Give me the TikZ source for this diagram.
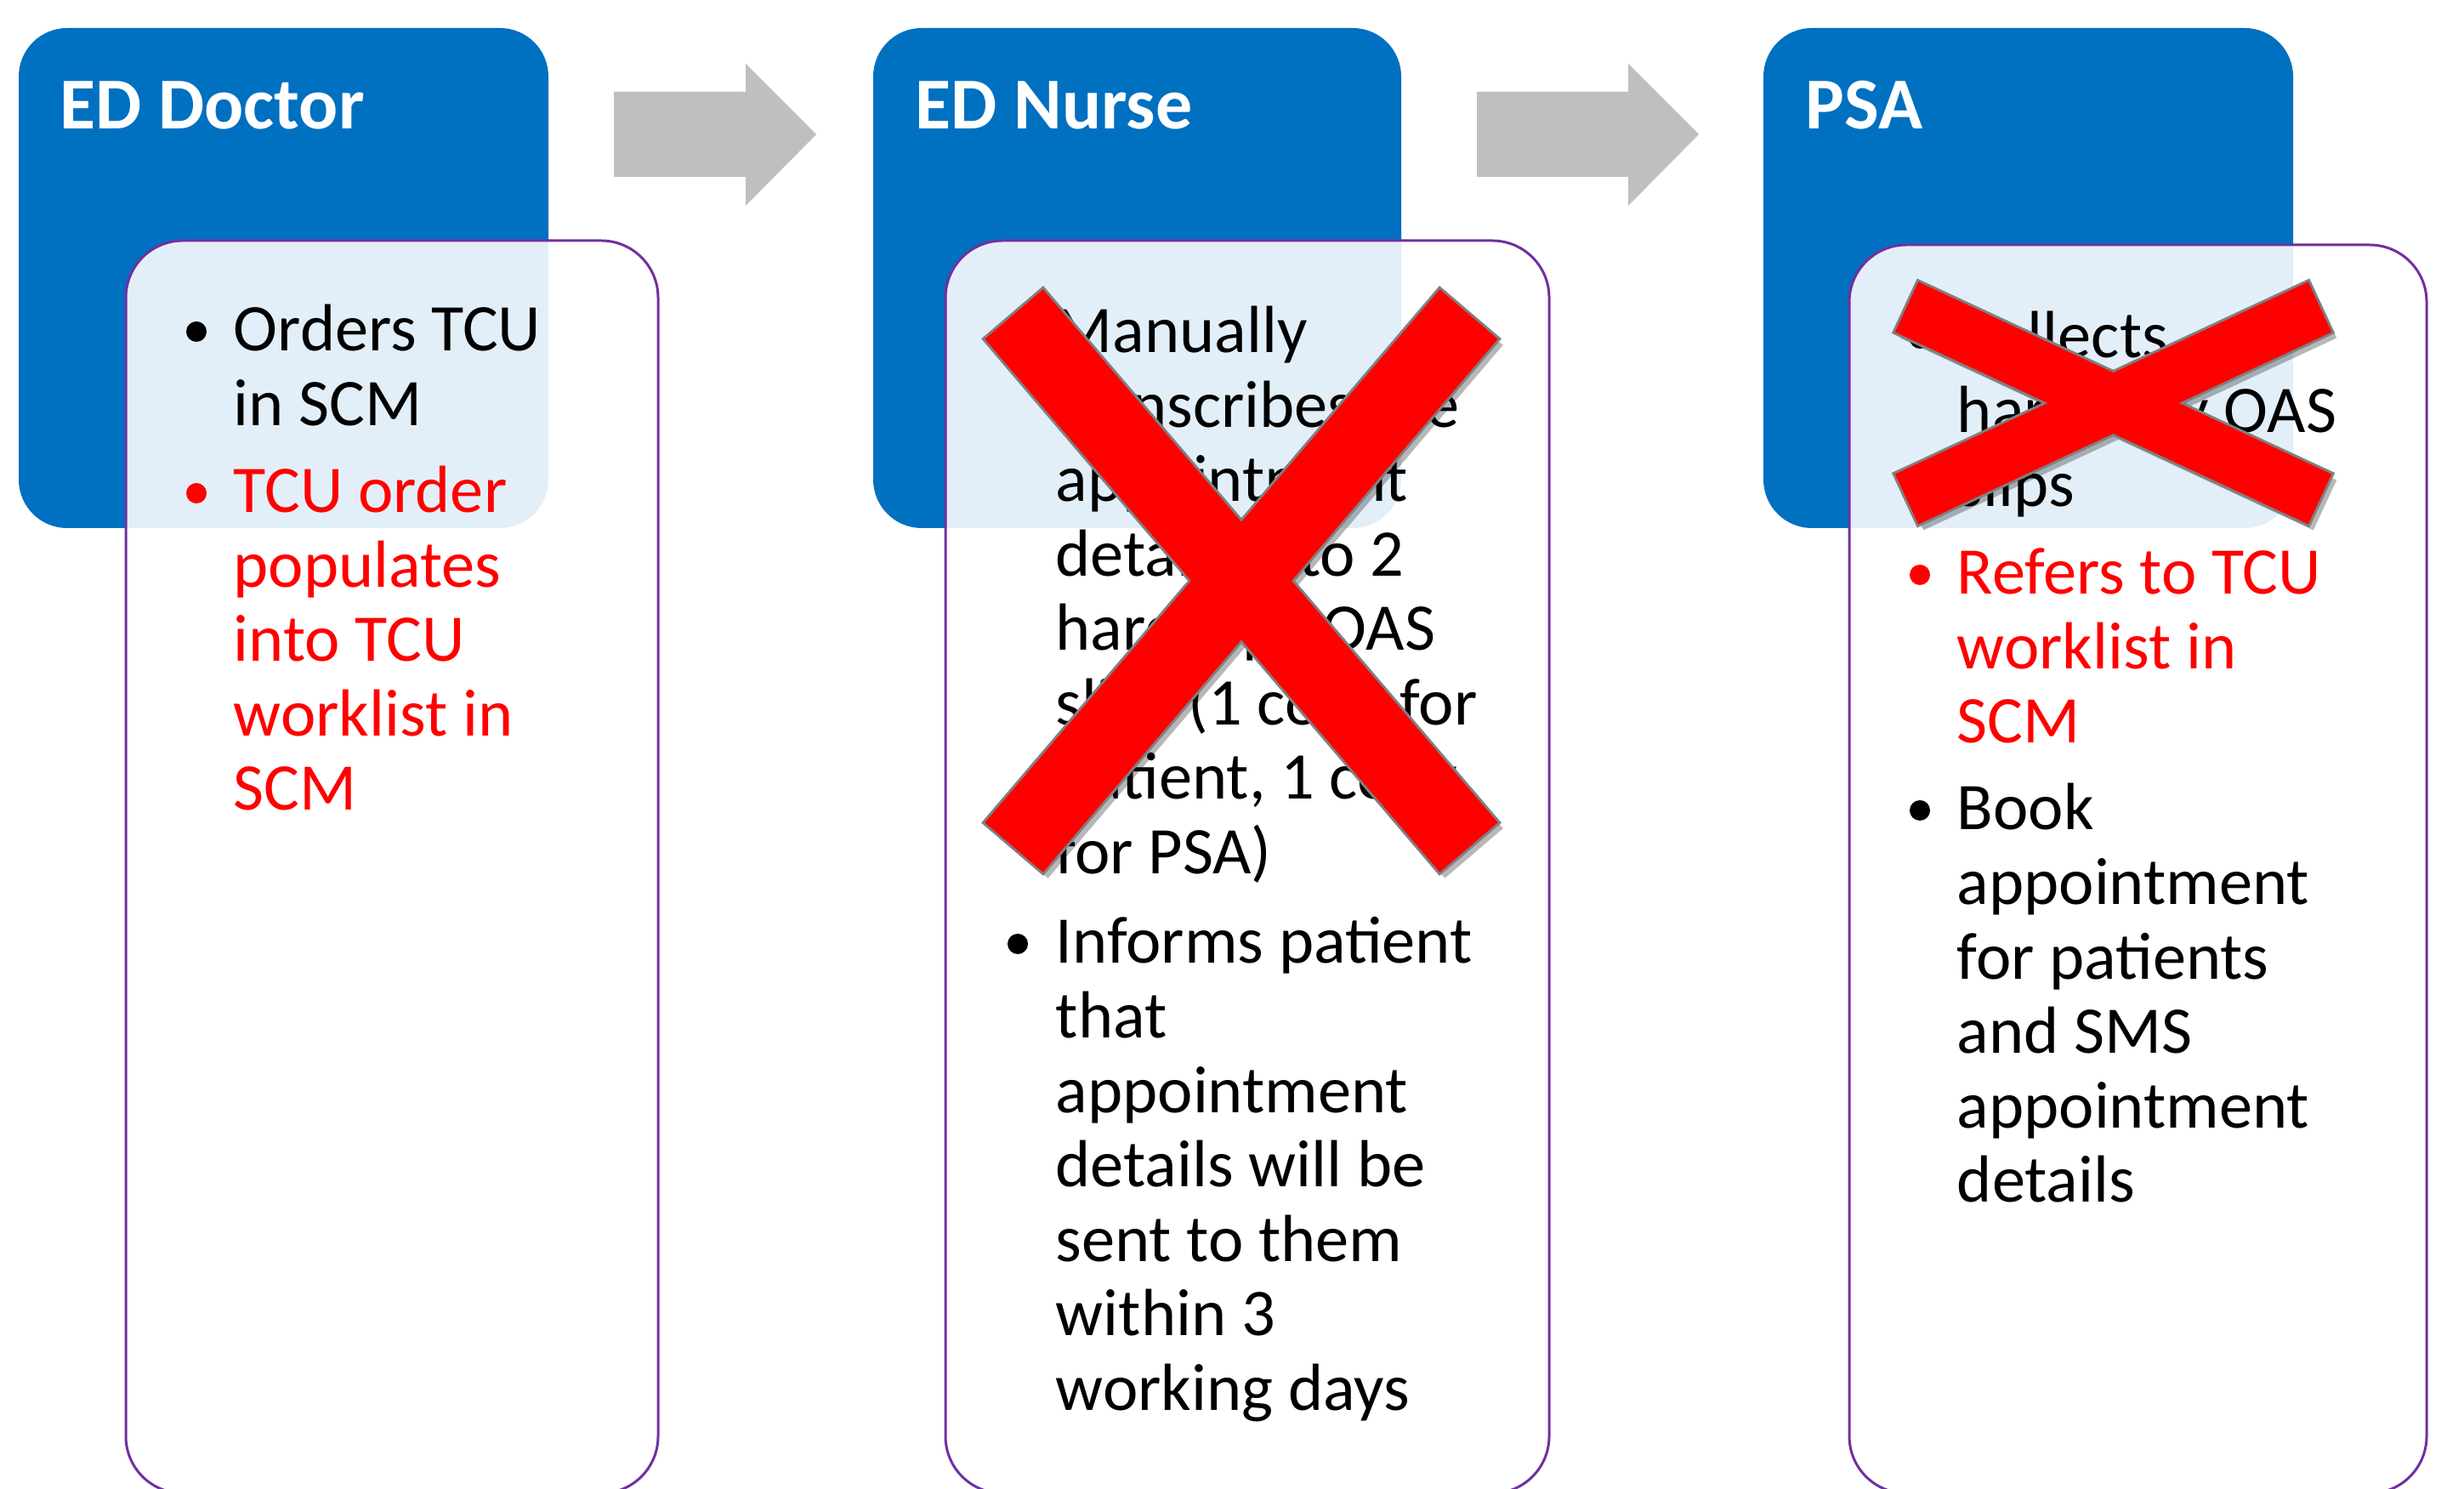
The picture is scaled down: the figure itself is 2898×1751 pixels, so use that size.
\documentclass[tikz,border=0pt]{standalone}
\usepackage{fontspec}
\setmainfont{Carlito}
\definecolor{hdrblue}{HTML}{0070C0}
\definecolor{boxpurple}{HTML}{7030A0}
\definecolor{arrowgray}{HTML}{BFBFBF}
\definecolor{xred}{HTML}{FF0000}
\definecolor{xedge}{HTML}{808080}
\begin{document}
\begin{tikzpicture}[x=0.25pt,y=-0.25pt,
  hdr/.style={fill=hdrblue, rounded corners=14.25pt},
  card/.style={fill=white, fill opacity=0.89, draw=boxpurple, line width=0.75pt, rounded corners=16.75pt},
  title/.style={anchor=base west, inner sep=0pt, text=white, font=\fontsize{21.5}{26}\selectfont\bfseries},
  body/.style={anchor=base west, inner sep=0pt, font=\fontsize{19.6}{22}\selectfont},
  redbody/.style={body, text=xred},
  bul/.style={circle, inner sep=0pt, minimum size=6pt, draw=none},
  flow/.style={fill=arrowgray},
  xshadow/.style={fill=black, opacity=0.28},
  xline/.style={draw=xedge, line width=1.5pt, line join=miter},
  xfill/.style={fill=xred}
]
\useasboundingbox (0,0) rectangle (2898,1751);
\clip (0,0) rectangle (2898,1751);

% header boxes
\path[hdr] (22,33) rectangle (645,621);
\path[hdr] (1027,33) rectangle (1648,621);
\path[hdr] (2074,33) rectangle (2697,621);

% flow arrows
\fill[flow] (722,108) -- (877,108) -- (877,75) -- (960,158) -- (877,242) -- (877,208) -- (722,208) -- cycle;
\fill[flow] (1737,108) -- (1915,108) -- (1915,75) -- (1998,158) -- (1915,242) -- (1915,208) -- (1737,208) -- cycle;

% cards
\draw[card] (148,283) rectangle (774,1756);
\draw[card] (1112,283) rectangle (1822,1756);
\draw[card] (2175,288) rectangle (2854,1756);

% titles
\node[title] (t1) at (70,152) {ED Doctor};
\node[title] (t2) at (1076,152) {ED Nurse};
\node[title] (t3) at (2123,152) {PSA};

% card 1
\node[bul, fill=black] (b11) at (231,390) {};
\foreach \t [count=\i from 0] in {Orders TCU, in SCM}
  \node[body] (a1-\i) at (274,{413+\i*87.5}) {\t};
\node[bul, fill=xred] (b12) at (231,580) {};
\foreach \t [count=\i from 0] in {TCU order, populates, into TCU, worklist in, SCM}
  \node[redbody] (c1-\i) at (274,{603+\i*87.5}) {\t};

% card 2
\node[bul, fill=black] (b21) at (1197,392) {};
\foreach \t [count=\i from 0] in {Manually, transcribes the, appointment, details into 2, hardcopy OAS, {slips (1 copy for}, {patient, 1 copy}, for PSA)}
  \node[body] (a2-\i) at (1241,{415+\i*87.5}) {\t};
\node[bul, fill=black] (b22) at (1197,1110) {};
\foreach \t [count=\i from 0] in {Informs patient, that, appointment, details will be, sent to them, within 3, working days}
  \node[body] (c2-\i) at (1241,{1133+\i*87.5}) {\t};

% card 3
\node[bul, fill=black] (b31) at (2258,398) {};
\foreach \t [count=\i from 0] in {Collects, hardcopy OAS, slips}
  \node[body] (a3-\i) at (2301,{421+\i*87.5}) {\t};
\node[bul, fill=xred] (b32) at (2258,676) {};
\foreach \t [count=\i from 0] in {Refers to TCU, worklist in, SCM}
  \node[redbody] (c3-\i) at (2301,{699+\i*87.5}) {\t};
\node[bul, fill=black] (b33) at (2258,953) {};
\foreach \t [count=\i from 0] in {Book, appointment, for patients, and SMS, appointment, details}
  \node[body] (d3-\i) at (2301,{976+\i*87.5}) {\t};

% red crosses
\begin{scope}[shift={(6,7)}]
\fill[xshadow] (1158.3,398.7) -- (1226.7,340.3) -- (1761.7,967.3) -- (1693.3,1025.7) -- cycle
               (1693.3,340.3) -- (1761.7,398.7) -- (1226.7,1025.7) -- (1158.3,967.3) -- cycle;
\fill[xshadow] (2228.8,390.5) -- (2256.2,331.5) -- (2742.2,557.5) -- (2714.8,616.5) -- cycle
               (2714.8,331.5) -- (2742.2,390.5) -- (2256.2,616.5) -- (2228.8,557.5) -- cycle;
\end{scope}
\draw[xline] (1158.3,398.7) -- (1226.7,340.3) -- (1761.7,967.3) -- (1693.3,1025.7) -- cycle;
\draw[xline] (1693.3,340.3) -- (1761.7,398.7) -- (1226.7,1025.7) -- (1158.3,967.3) -- cycle;
\fill[xfill] (1158.3,398.7) -- (1226.7,340.3) -- (1761.7,967.3) -- (1693.3,1025.7) -- cycle
             (1693.3,340.3) -- (1761.7,398.7) -- (1226.7,1025.7) -- (1158.3,967.3) -- cycle;
\draw[xline] (2228.8,390.5) -- (2256.2,331.5) -- (2742.2,557.5) -- (2714.8,616.5) -- cycle;
\draw[xline] (2714.8,331.5) -- (2742.2,390.5) -- (2256.2,616.5) -- (2228.8,557.5) -- cycle;
\fill[xfill] (2228.8,390.5) -- (2256.2,331.5) -- (2742.2,557.5) -- (2714.8,616.5) -- cycle
             (2714.8,331.5) -- (2742.2,390.5) -- (2256.2,616.5) -- (2228.8,557.5) -- cycle;
\end{tikzpicture}
\end{document}
